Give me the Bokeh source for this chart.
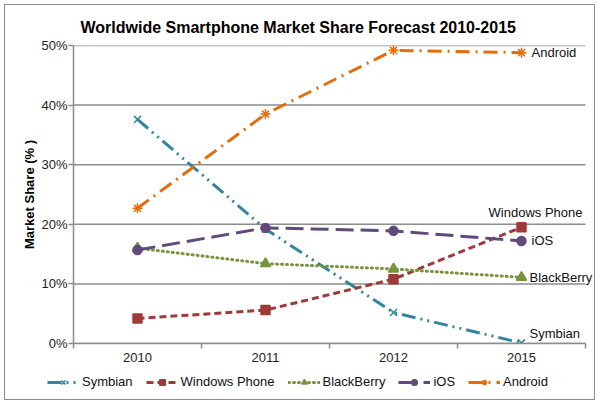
from bokeh.plotting import figure
from bokeh.layouts import column
from bokeh.models import (FixedTicker, Legend, LegendItem, Label, PrintfTickFormatter, Range1d)
from bokeh.embed import file_html
from bokeh.resources import INLINE

years = ["2010", "2011", "2012", "2015"]
symbian = [37.6, 19.2, 5.2, 0.1]
windows_phone = [4.2, 5.6, 10.8, 19.5]
blackberry = [16.0, 13.4, 12.5, 11.1]
ios = [15.7, 19.4, 18.9, 17.2]
android = [22.7, 38.5, 49.2, 48.8]
y_ticks = [0, 10, 20, 30, 40, 50]

series = [
    ("Symbian", symbian, "#31869B", "14 5 2 5 2 5", "x", 10, (8, 2, "left", "bottom")),
    ("Windows Phone", windows_phone, "#9E3B39", "7 4", "square", 9, (14, 7, "center", "bottom")),
    ("BlackBerry", blackberry, "#77933C", "1 4", "triangle", 10, (8, 0, "left", "middle")),
    ("iOS", ios, "#604A7B", "18 7", "circle", 9, (10, 0, "left", "middle")),
    ("Android", android, "#E46C0A", "14 6 2 6", "asterisk", 10, (10, 0, "left", "middle")),
]

n = len(years)
xs = [i + 0.5 for i in range(n)]
FONT = "Liberation Sans"
grid_color = "#8c8c8c"

x_range = Range1d(0, n * 521 / 512)
y_range = Range1d(0, 50)

p = figure(width=589, height=368, output_backend="svg", toolbar_location=None,
           x_range=x_range, y_range=y_range,
           min_border_left=68, min_border_right=0, min_border_top=40, min_border_bottom=30)
p.outline_line_color = None

p.title.text = "Worldwide Smartphone Market Share Forecast 2010-2015"
p.title.align = "left"
p.title.offset = 7
p.title.standoff = 20
p.title.text_font = FONT
p.title.text_font_size = "16px"
p.title.text_font_style = "bold"
p.title.text_color = "black"

p.xgrid.grid_line_color = None
p.ygrid.grid_line_color = None
p.segment(x0=[0] * len(y_ticks), x1=[n] * len(y_ticks), y0=y_ticks, y1=y_ticks,
          line_color=grid_color, line_width=1.5, level="underlay")

p.yaxis.ticker = FixedTicker(ticks=y_ticks)
p.yaxis.formatter = PrintfTickFormatter(format="%d%%")
p.yaxis.axis_line_color = grid_color
p.yaxis.axis_line_width = 1.5
p.yaxis.major_tick_line_color = grid_color
p.yaxis.major_tick_line_width = 1.5
p.yaxis.major_tick_in = 0
p.yaxis.major_tick_out = 5
p.yaxis.minor_tick_line_color = None
p.yaxis.major_label_text_font = FONT
p.yaxis.major_label_text_font_size = "13px"
p.yaxis.major_label_text_color = "#222222"
p.yaxis.major_label_standoff = 1
p.yaxis.axis_label = "Market Share (% )"
p.yaxis.axis_label_text_font = FONT
p.yaxis.axis_label_text_font_size = "13px"
p.yaxis.axis_label_text_font_style = "bold"
p.yaxis.axis_label_text_color = "black"
p.yaxis.axis_label_standoff = 1

p.xaxis.ticker = FixedTicker(ticks=xs, minor_ticks=list(range(n + 1)))
p.xaxis.bounds = (0, n)
p.xaxis.major_label_overrides = {x: y for x, y in zip(xs, years)}
p.xaxis.axis_line_color = grid_color
p.xaxis.axis_line_width = 1.5
p.xaxis.major_tick_line_color = None
p.xaxis.minor_tick_line_color = grid_color
p.xaxis.minor_tick_line_width = 1.5
p.xaxis.minor_tick_in = 0
p.xaxis.minor_tick_out = 5
p.xaxis.major_label_text_font = FONT
p.xaxis.major_label_text_font_size = "13px"
p.xaxis.major_label_text_color = "#222222"
p.xaxis.major_label_standoff = 3

# separate strip for the legend (annotations are clipped to a frame)
pl = figure(width=589, height=26, output_backend="svg", toolbar_location=None,
            x_range=x_range, y_range=y_range, x_axis_location=None, y_axis_location=None,
            min_border=0)
pl.outline_line_color = None
pl.xgrid.grid_line_color = None
pl.ygrid.grid_line_color = None

for fig in (p, pl):
    if "frame_align" in fig.properties():
        fig.frame_align = False

items = []
for name, vals, color, dash, marker, size, (dx, dy, align, base) in series:
    cap = "round" if dash == "1 4" else "butt"
    p.line(xs, vals, line_color=color, line_width=3, line_dash=dash, line_cap=cap)
    p.scatter(xs, vals, marker=marker, size=size, fill_color=color,
              line_color=color, line_width=1.5)
    p.add_layout(Label(x=xs[-1], y=vals[-1], text=name, x_offset=dx, y_offset=dy,
                       text_align=align, text_baseline=base, text_font=FONT,
                       text_font_size="13px", text_color="#111111"))
    lr = pl.line(xs, vals, line_color=color, line_width=3, line_dash=dash,
                 line_cap=cap, visible=False)
    mr = pl.scatter(xs, vals, marker=marker, size=size, fill_color=color,
                    line_color=color, line_width=1.5, visible=False)
    items.append(LegendItem(label=name, renderers=[lr, mr]))

legend = Legend(items=items, orientation="horizontal", location=(42, 10),
                label_text_font=FONT, label_text_font_size="13px",
                label_text_color="#111111", glyph_width=32, glyph_height=14,
                spacing=13, label_standoff=3, border_line_color=None,
                padding=2, margin=0, background_fill_alpha=0,
                inactive_fill_alpha=0)
pl.add_layout(legend, "center")

layout = column(p, pl, spacing=0,
                styles={"border": "1px solid #8c8c8c", "margin": "4px"})

open("out.html", "w").write(file_html(layout, INLINE))
